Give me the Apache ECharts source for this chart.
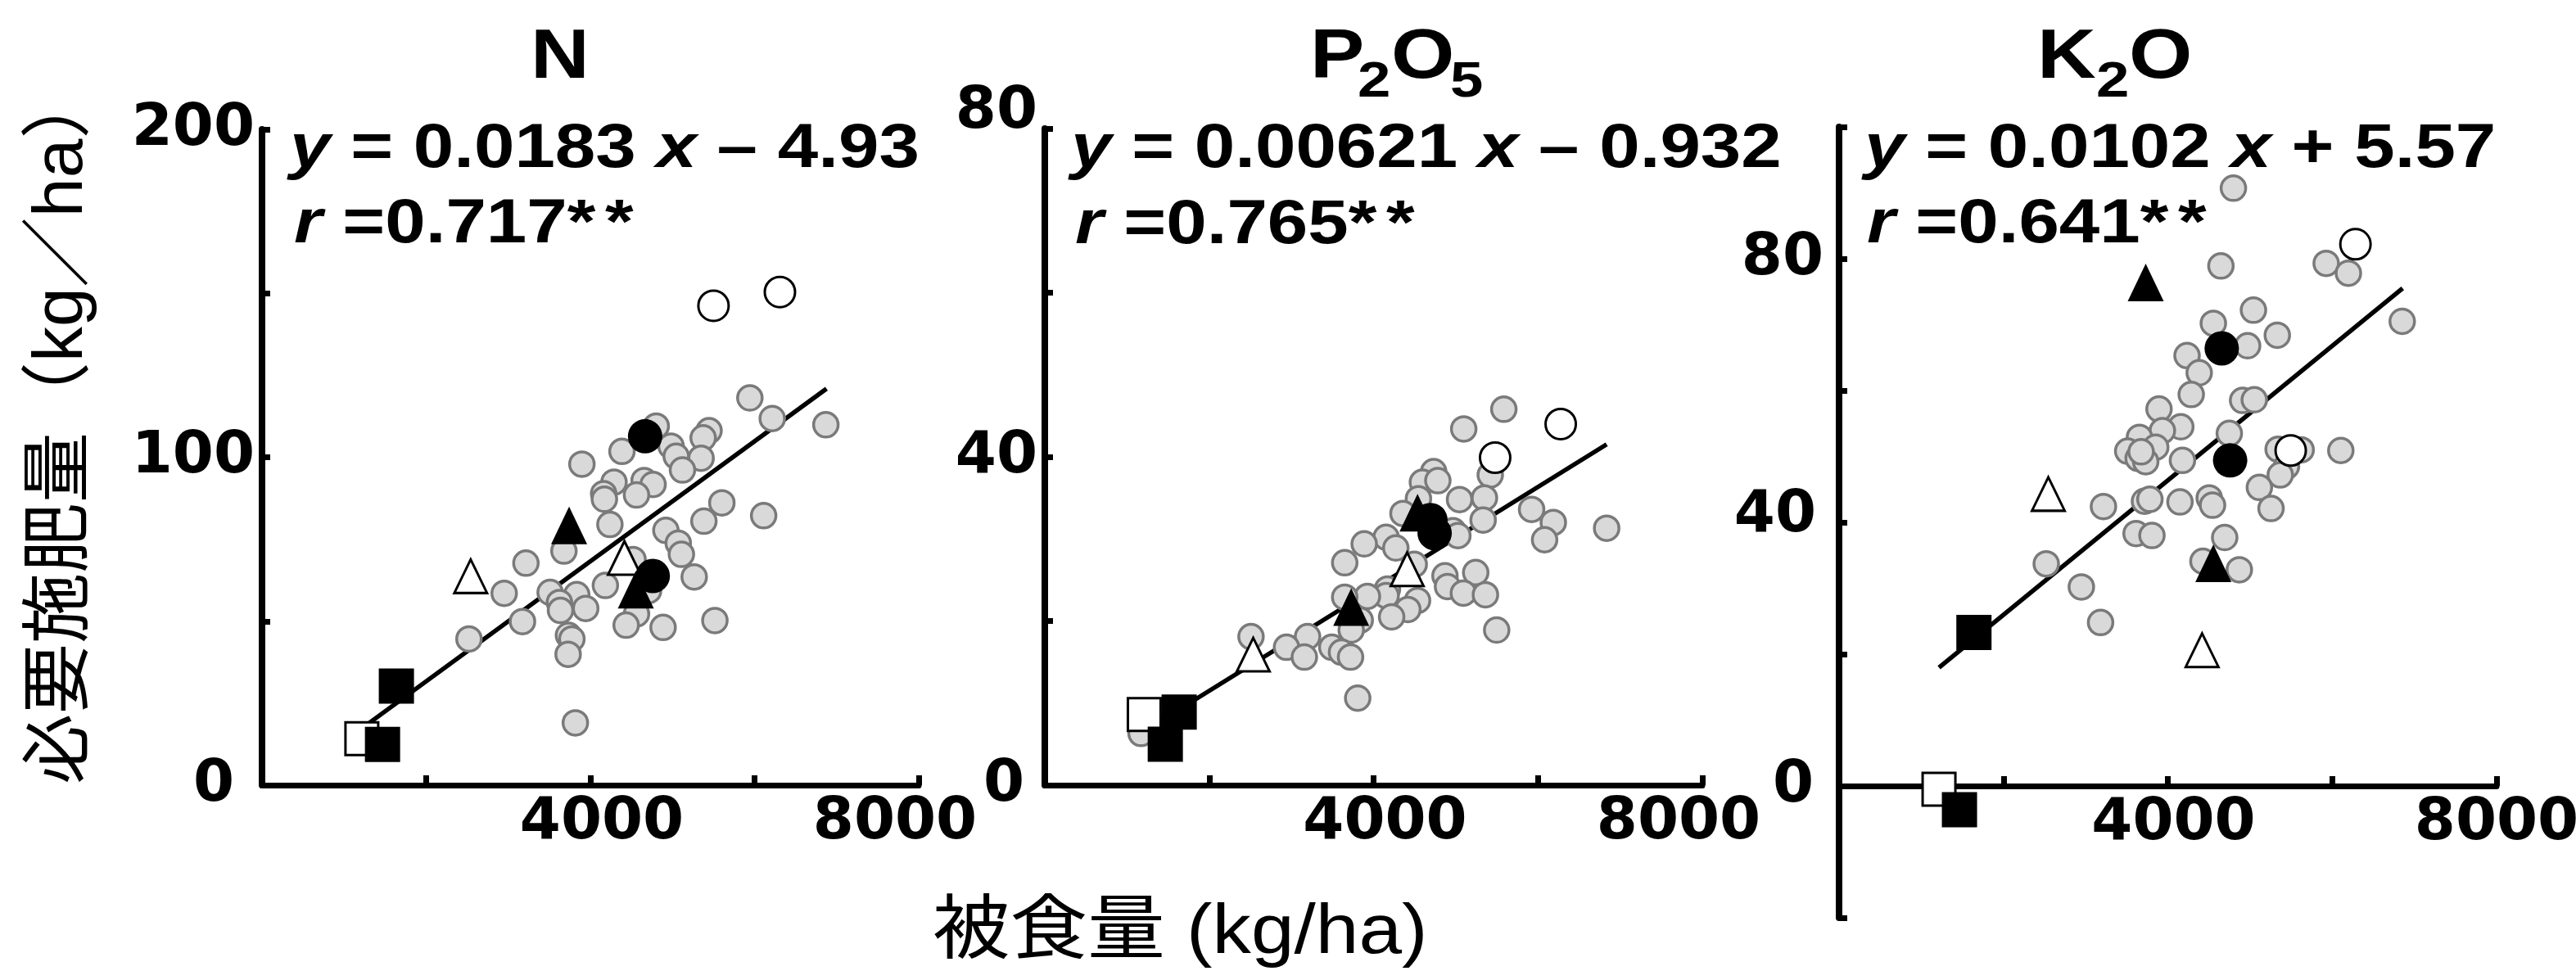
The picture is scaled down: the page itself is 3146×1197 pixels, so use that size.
<!DOCTYPE html>
<html><head><meta charset="utf-8">
<script src="https://cdn.jsdelivr.net/npm/echarts@6/dist/echarts.min.js"></script>
<style>html,body{margin:0;padding:0;background:#fff}#c{width:3146px;height:1197px}</style>
</head><body><div id="c"></div>
<script>
// ---------- data (kg/ha) ----------
const nGray = [[5943,118.1],[6216,111.8],[6869,109.9],[4802,109.5],[5446,108.1],[5374,105.9],[4983,103.4],[4385,101.8],[5046,100.3],[5349,99.7],[5122,96.1],[3897,97.9],[4288,92.4],[4655,92.9],[4764,91.7],[4162,88.9],[4171,87.2],[4562,88.5],[5602,86.1],[6111,82.2],[5383,80.5],[4238,79.5],[4920,77.7],[5071,73.8],[5109,70.4],[3678,71.4],[4520,68.8],[3215,67.7],[5265,63.5],[2950,58.5],[3510,58.8],[3834,58.1],[3623,55.7],[3636,53.3],[3943,53.9],[4183,60.9],[4709,59.3],[3173,49.9],[2521,44.6],[4562,52.2],[4436,48.8],[4886,48.1],[5517,50.2],[3733,45.7],[3775,44.6],[3729,39.9],[3817,19.0]];
const nOpenCircle = [[5500,146.2],[6309,150.4]];
const nBlackCircle = [[4667,106.4],[4760,63.8]];
const nBlackTri = [[3741,79.2],[4554,59.6]];
const nOpenTri = [[2542,63.7],[4415,69.3]];
const nBlackSq = [[1637,30.2],[1468,12.4]];
const nOpenSq = [[1216,14.2]];

const pGray = [[5585,45.8],[5097,43.4],[5420,37.8],[4731,38.2],[4594,36.9],[4782,37.1],[4546,34.9],[5046,34.8],[5349,35.0],[4358,33.1],[5333,32.3],[5923,33.6],[6187,32.0],[6081,29.9],[6836,31.3],[4967,31.0],[5026,30.4],[4153,30.2],[4271,28.9],[3886,29.4],[3649,27.1],[4495,26.9],[4869,25.5],[4900,24.2],[5243,25.9],[5093,23.4],[5361,23.2],[4169,23.9],[4153,23.1],[3925,23.0],[3649,22.9],[4535,22.5],[4417,21.4],[4220,20.5],[3838,20.1],[3728,18.9],[5498,18.9],[3197,18.1],[2509,18.1],[2941,16.8],[3158,15.6],[3492,16.8],[3610,16.2],[3720,15.6],[3807,10.6],[1171,6.3]];
const pOpenCircle = [[6277,44.0],[5479,39.9]];
const pBlackCircle = [[4692,32.3],[4743,30.7]];
const pBlackTri = [[4535,33.2],[3728,21.7]];
const pOpenTri = [[4409,26.3],[2536,15.9]];
const pBlackSq = [[1635,8.9],[1466,5.0]];
const pOpenSq = [[1210,8.6]];

const kGray = [[4798,90.7],[4646,78.9],[5927,79.3],[6197,77.8],[5042,72.2],[4554,70.2],[4971,66.8],[5332,68.4],[6852,70.5],[4234,65.3],[4382,62.7],[4285,59.4],[4910,58.5],[5052,58.6],[3893,57.2],[4158,54.5],[3934,53.9],[3655,52.9],[3853,51.4],[3512,50.8],[3639,49.7],[3731,49.2],[3675,50.7],[4748,53.5],[4178,49.4],[5342,51.1],[5622,51.0],[5444,48.5],[5368,47.2],[6105,50.9],[5114,45.3],[5256,42.1],[3716,43.2],[3782,43.5],[4148,43.1],[4504,43.7],[4544,42.6],[3217,42.4],[3614,38.3],[3807,38.0],[4692,37.7],[4427,34.1],[4870,32.8],[2521,33.7],[2948,30.2],[3182,24.8]];
const kOpenCircle = [[6283,82.2],[5495,50.9]];
const kBlackCircle = [[4656,66.4],[4758,49.4]];
const kBlackTri = [[3731,76.4],[4554,33.8]];
const kOpenTri = [[2546,44.3],[4417,20.6]];
const kBlackSq = [[1641,23.3],[1465,-3.6]];
const kOpenSq = [[1216,-0.5]];

// regression lines (as printed on the chart) and their drawn x-extent
const slopes = [0.0183, 0.00621, 0.0102];
const intercepts = [-4.93, -0.932, 5.57];
const lineXRange = [[1216,6877],[1210,6836],[1216,6857]];

// texts
const panelTitles = [['N'], ['P','2','O','5'], ['K','2','O']];
const eqSlope = ['0.0183','0.00621','0.0102'];
const eqSign = ['–','–','+'];
const eqIntercept = ['4.93','0.932','5.57'];
const rValues = ['0.717','0.765','0.641'];
const xTickLabels = [4000, 8000];
const nYTickLabels = [0, 100, 200];
const pYTickLabels = [0, 40, 80];
const kYTickLabels = [0, 40, 80];
const yName = '必要施肥量（kg／ha）';
const xName = '被食量 (kg/ha)';

// ---------- layout ----------
const LBL_FONT = 'DejaVu Sans';
const TXT_FONT = 'Liberation Sans';
const grids = [
  {left:320, top:158, width:802, height:801},
  {left:1276, top:157, width:803, height:802},
  {left:2246, top:155, width:803, height:966}
];
const yRanges = [[0,200,50],[0,80,20],[-20,100,20]];
const xAxisOffset = [0, 0, -161];
const yLabelSets = [nYTickLabels, pYTickLabels, kYTickLabels];
const yLabelPad = [
  {0:[0,25,0,0]},
  {0:[0,16,0,0], 80:[0,0,40,0]},
  {0:[0,22,0,0], 40:[0,19,16,0], 80:[0,10,0,0]}
];
const xLabelPad = [
  {4000:[0,0,0,28], 8000:[0,58,0,0]},
  {4000:[0,0,0,28], 8000:[0,58,0,0]},
  {4000:[0,0,0,14], 8000:[0,0,0,0]}
];

function lblStyle(pad){
  return {fontSize:72, fontFamily:LBL_FONT, fontWeight:'bold', color:'#000', padding:pad};
}
function richFor(padMap, labels){
  const r = {};
  labels.forEach(v => { r['v' + String(v).replace('-','m')] = lblStyle(padMap[v] || [0,0,0,0]); });
  return r;
}
function fmt(labels){
  return v => labels.indexOf(v) >= 0 ? '{v' + String(v).replace('-','m') + '|' + v + '}' : '';
}

const xAxes = [], yAxes = [];
for (let i = 0; i < 3; i++){
  xAxes.push({
    type:'value', gridIndex:i, min:0, max:8000, interval:2000, position:'bottom', offset:xAxisOffset[i],
    axisLine:{show:true, onZero:false, lineStyle:{color:'#000', width:7}},
    axisTick:{show:true, inside:true, length:12, lineStyle:{color:'#000', width:7}},
    splitLine:{show:false},
    axisLabel:{show:true, margin:10, color:'#000', fontSize:72, fontFamily:LBL_FONT, fontWeight:'bold',
      formatter: fmt(xTickLabels), rich: richFor(xLabelPad[i], xTickLabels)}
  });
  yAxes.push({
    type:'value', gridIndex:i, min:yRanges[i][0], max:yRanges[i][1], interval:yRanges[i][2],
    axisLine:{show:true, onZero:false, lineStyle:{color:'#000', width:8}},
    axisTick:{show:true, inside:true, length:10, lineStyle:{color:'#000', width:7}},
    splitLine:{show:false},
    axisLabel:{show:true, margin:9, color:'#000', fontSize:72, fontFamily:LBL_FONT, fontWeight:'bold',
      formatter: fmt(yLabelSets[i]), rich: richFor(yLabelPad[i], yLabelSets[i])}
  });
}

const GRAY_FILL = '#d9d9d9', GRAY_EDGE = '#7a7a7a';
function sc(gi, data, sym, size, fill, edge, bw, z){
  return {type:'scatter', xAxisIndex:gi, yAxisIndex:gi, data:data, symbol:sym, symbolSize:size, z:z,
    silent:true, itemStyle:{color:fill, borderColor:edge, borderWidth:bw, opacity:1}};
}
const panels = [
  [nGray, nOpenSq, nOpenTri, nOpenCircle, nBlackSq, nBlackTri, nBlackCircle],
  [pGray, pOpenSq, pOpenTri, pOpenCircle, pBlackSq, pBlackTri, pBlackCircle],
  [kGray, kOpenSq, kOpenTri, kOpenCircle, kBlackSq, kBlackTri, kBlackCircle]
];
const series = [];
panels.forEach((p, i) => {
  const xr = lineXRange[i];
  series.push({type:'line', xAxisIndex:i, yAxisIndex:i, symbol:'none', silent:true, z:1,
    data: xr.map(x => [x, slopes[i]*x + intercepts[i]]),
    lineStyle:{color:'#000', width:5.5}});
  series.push(sc(i, p[0], 'circle', 30, GRAY_FILL, GRAY_EDGE, 3.5, 2));
  series.push(sc(i, p[1], 'rect', 40, '#fff', '#000', 3, 3));
  series.push(sc(i, p[2], 'triangle', [40,41], '#fff', '#000', 3, 3));
  series.push(sc(i, p[3], 'circle', 37, '#fff', '#000', 3, 3));
  series.push(sc(i, p[4], 'rect', 43, '#000', '#000', 0, 4));
  series.push(sc(i, p[5], 'triangle', [44,46], '#000', '#000', 0, 4));
  series.push(sc(i, p[6], 'circle', 42, '#000', '#000', 0, 4));
});

// ---------- text graphics ----------
const SX = 1.17;
function txt(x, y, text, size, o){
  o = o || {};
  const st = {text:text, fontSize:size, fontFamily:o.family || TXT_FONT, fontWeight:o.weight || 'bold',
    fontStyle:o.italic ? 'italic' : 'normal', fill:'#000',
    align:o.align || 'left', textAlign:o.align || 'left', verticalAlign:'middle', textVerticalAlign:'middle'};
  if (o.rich) st.rich = o.rich;
  return {type:'text', x:x, y:y, scaleX:o.sx || 1, rotation:o.rot || 0, z:10, style:st, silent:true};
}
const eqRich = {
  i:{fontSize:76, fontFamily:TXT_FONT, fontWeight:'bold', fontStyle:'italic', fill:'#000'},
  n:{fontSize:76, fontFamily:TXT_FONT, fontWeight:'bold', fill:'#000'},
  s:{fontSize:36, fontFamily:TXT_FONT, fontWeight:'bold', fill:'#000'}
};
const eqPos = [[354,183,359,275],[1308,183,1313,276],[2277,183,2280,275]];
const graphics = [];
for (let i = 0; i < 3; i++){
  const e = eqPos[i];
  graphics.push(txt(e[0], e[1], '{i|y}{n| = ' + eqSlope[i] + ' }{i|x}{n| ' + eqSign[i] + ' ' + eqIntercept[i] + '}', 76, {sx:SX, rich:eqRich}));
  graphics.push(txt(e[2], e[3], '{i|r}{n| =' + rValues[i] + '*}{s| }{n|*}', 76, {sx:SX, rich:eqRich}));
}
// panel titles with subscripts
const titleParts = [
  [[684,'center',0]],
  [[1600,'left',0],[1658,'left',1],[1699,'left',0],[1771,'left',1]],
  [[2488,'left',0],[2560,'left',1],[2600,'left',0]]
];
titleParts.forEach((parts, i) => {
  parts.forEach((pp, j) => {
    const sub = pp[2] === 1;
    graphics.push(txt(pp[0], sub ? 101 : 72, panelTitles[i][j], sub ? 62 : 85, {sx:SX, align:pp[1]}));
  });
});
const CJK_FAMILY = TXT_FONT + ', "Noto Sans CJK JP"';
graphics.push(txt(76, 958, yName, 86, {family:CJK_FAMILY, weight:'normal', align:'left', rot:Math.PI/2}));
graphics.push(txt(1139, 1140, xName, 86, {family:CJK_FAMILY, weight:'normal', sx:1.1}));

const chart = echarts.init(document.getElementById('c'), null, {renderer:'canvas'});
chart.setOption({
  animation:false,
  backgroundColor:'#fff',
  grid: grids.map(g => Object.assign({outerBoundsMode:'none', containLabel:false}, g)),
  xAxis: xAxes,
  yAxis: yAxes,
  series: series,
  graphic: {elements: graphics}
});
</script>
</body></html>
